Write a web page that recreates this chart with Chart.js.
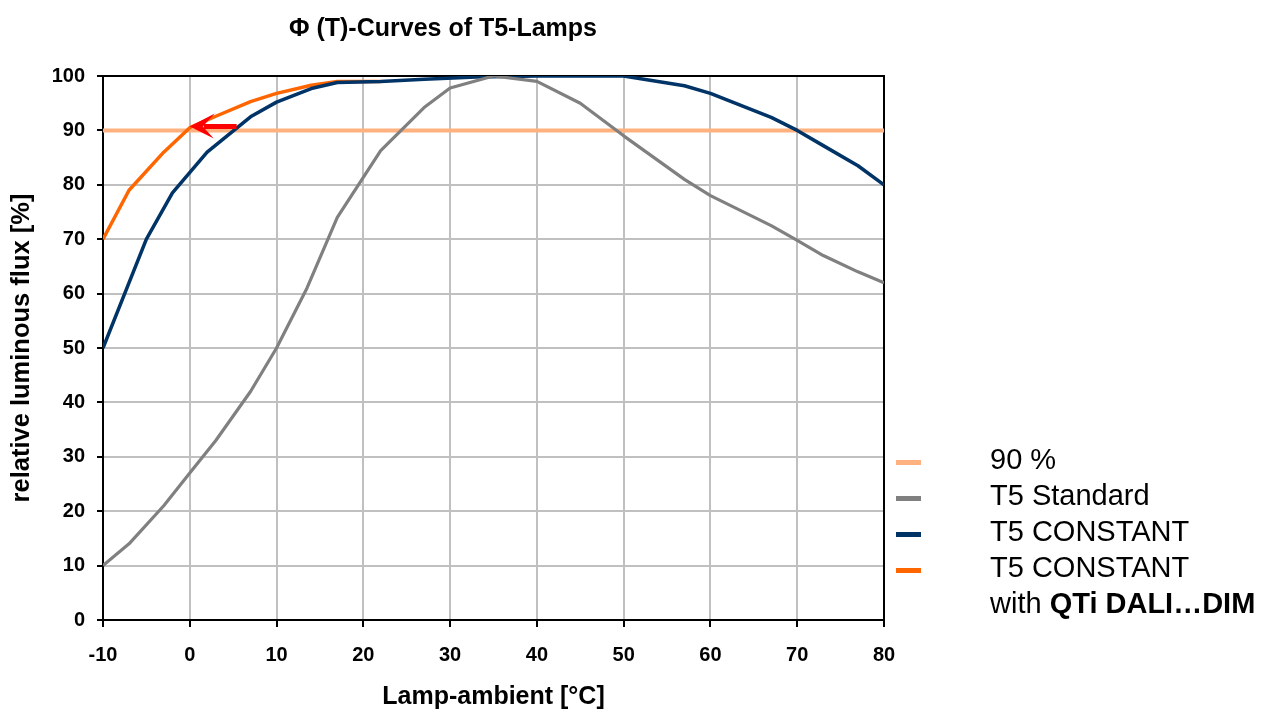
<!DOCTYPE html>
<html>
<head>
<meta charset="utf-8">
<script src="https://cdn.jsdelivr.net/npm/chart.js@4"></script>
<style>
  body { margin: 0; background: #fff; overflow: hidden; font-family: "Liberation Sans", Arial, sans-serif; }
  #wrap { position: relative; width: 1270px; height: 713px; }
  #title { position: absolute; left: 443px; top: 15px; transform: translateX(-50%); font-size: 25px; font-weight: bold; line-height: 1; white-space: nowrap; }
  #legend { position: absolute; left: 990px; top: 441px; font-size: 29px; line-height: 36px; white-space: nowrap; color: #000; }
  .swatch { position: absolute; left: 896px; width: 25px; height: 5px; }
</style>
</head>
<body>
<div id="wrap">
  <canvas id="fluxChart" width="1270" height="713"></canvas>
  <div id="title">&Phi; (T)-Curves of T5-Lamps</div>
  <div class="swatch" style="top:460px;background:#ffb27f"></div>
  <div class="swatch" style="top:496px;background:#808080"></div>
  <div class="swatch" style="top:532px;background:#003366"></div>
  <div class="swatch" style="top:568px;background:#ff6600"></div>
  <div id="legend">
    90 %<br>
    T5 Standard<br>
    T5 CONSTANT<br>
    T5 CONSTANT<br>
    with <b>QTi DALI…DIM</b>
  </div>
</div>
<script>
const FONT = '"Liberation Sans", Arial, sans-serif';

// lamp ambient temperature [°C] and relative flux [%]
const tempStandard = [-10, -7, -3, 0, 3, 7, 10, 13.5, 17, 22, 27, 30, 35, 40, 45, 50, 57, 60, 67, 70, 73, 77, 80];
const fluxStandard = [10, 14, 21, 27, 33, 42, 50, 61, 74, 86.3, 94.2, 97.8, 100, 99, 95, 89, 81, 78, 72.5, 69.8, 67, 64, 62];

const tempConstant = [-10, -5, -2, 2, 7, 10, 14, 17, 22, 27, 33, 40, 50, 57, 60, 67, 70, 73, 77, 80];
const fluxConstant = [50, 70, 78.5, 86, 92.5, 95.2, 97.7, 98.8, 99, 99.4, 99.8, 100, 100, 98.2, 96.8, 92.4, 90, 87.2, 83.5, 80];

const tempDali = [-10, -7, -3, 0, 3, 7, 10, 14, 17, 22];
const fluxDali = [70, 79, 86, 90.5, 92.6, 95.3, 96.8, 98.3, 99, 99];

const tempLimit = [-10, 80];
const fluxLimit = [90, 90];

// red arrow, tail -> tip, in chart values
const arrowTail = [5.4, 90.7];
const arrowTip = [0, 90.7];

function toPoints(xs, ys) {
    return xs.map((x, i) => ({ x: x, y: ys[i] }));
}

const framePlugin = {
    id: 'frame',
    beforeDatasetsDraw(chart) {
        const { ctx, chartArea: a } = chart;
        ctx.save();
        ctx.strokeStyle = '#000';
        ctx.lineWidth = 2;
        ctx.strokeRect(a.left, a.top, a.right - a.left, a.bottom - a.top);
        ctx.restore();
    }
};

const arrowPlugin = {
    id: 'arrow',
    afterDatasetsDraw(chart) {
        const { ctx, scales } = chart;
        const x0 = scales.x.getPixelForValue(arrowTail[0]);
        const y0 = scales.y.getPixelForValue(arrowTail[1]);
        const x1 = scales.x.getPixelForValue(arrowTip[0]);
        const y1 = scales.y.getPixelForValue(arrowTip[1]);
        ctx.save();
        ctx.strokeStyle = '#ff0000';
        ctx.fillStyle = '#ff0000';
        ctx.lineWidth = 5;
        ctx.beginPath();
        ctx.moveTo(x0, y0);
        ctx.lineTo(x1 + 14, y1);
        ctx.stroke();
        ctx.beginPath();
        ctx.moveTo(x1, y1);
        ctx.lineTo(x1 + 25, y1 - 13);
        ctx.lineTo(x1 + 13, y1);
        ctx.lineTo(x1 + 24, y1 + 12);
        ctx.closePath();
        ctx.fill();
        ctx.restore();
    }
};

const tickFont = { family: FONT, size: 20, weight: 'bold' };

new Chart(document.getElementById('fluxChart'), {
    type: 'line',
    data: {
        datasets: [
            {
                label: 'T5 Standard',
                data: toPoints(tempStandard, fluxStandard),
                borderColor: '#808080',
                borderWidth: 3.2,
                order: 0
            },
            {
                label: 'T5 CONSTANT',
                data: toPoints(tempConstant, fluxConstant),
                borderColor: '#003366',
                borderWidth: 3.5,
                order: 1
            },
            {
                label: 'T5 CONSTANT with QTi DALI...DIM',
                data: toPoints(tempDali, fluxDali),
                borderColor: '#ff6600',
                borderWidth: 3.5,
                order: 2
            },
            {
                label: '90 %',
                data: toPoints(tempLimit, fluxLimit),
                borderColor: '#ffb27f',
                borderWidth: 4,
                order: 3
            }
        ]
    },
    options: {
        responsive: false,
        animation: false,
        elements: {
            point: { radius: 0, hoverRadius: 0 },
            line: { tension: 0, borderCapStyle: 'butt', borderJoinStyle: 'round' }
        },
        layout: { padding: { top: 76, right: 386, bottom: 0, left: 0 } },
        plugins: {
            legend: { display: false },
            tooltip: { enabled: false }
        },
        scales: {
            x: {
                type: 'linear',
                min: -10,
                max: 80,
                ticks: { stepSize: 10, color: '#000', font: tickFont, padding: 16 },
                grid: { color: '#c0c0c0', lineWidth: 2, tickColor: '#000', tickLength: 7, tickWidth: 2 },
                border: { color: '#000', width: 2 },
                title: { display: true, text: 'Lamp-ambient [°C]', color: '#000', font: { family: FONT, size: 25, weight: 'bold' }, padding: { top: 0, bottom: 1 } },
                afterFit(scale) { scale.height = 93; }
            },
            y: {
                min: 0,
                max: 100,
                ticks: { stepSize: 10, color: '#000', font: tickFont, padding: 12 },
                grid: { color: '#c0c0c0', lineWidth: 2, tickColor: '#000', tickLength: 6, tickWidth: 2 },
                border: { color: '#000', width: 2 },
                title: { display: true, text: 'relative luminous flux [%]', color: '#000', font: { family: FONT, size: 25.5, weight: 'bold' }, padding: { top: 7, bottom: 0 } },
                afterFit(scale) { scale.width = 103; }
            }
        }
    },
    plugins: [framePlugin, arrowPlugin]
});
</script>
</body>
</html>
